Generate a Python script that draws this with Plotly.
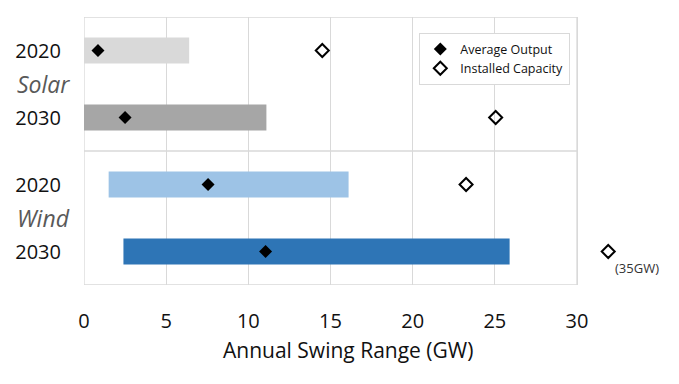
import plotly.graph_objects as go

# ---- data ----
row_labels = ["2020", "2030", "2020", "2030"]
row_pos = [3, 2, 1, 0]
bar_start = [0.0, 0.0, 1.5, 2.4]
bar_end = [6.4, 11.1, 16.1, 25.9]
bar_colors = ["#d9d9d9", "#a6a6a6", "#9dc3e6", "#2e75b6"]
avg_output = [0.85, 2.5, 7.55, 11.05]
installed_capacity = [14.5, 25.0, 23.3, 35.0]
installed_plot = [14.5, 25.05, 23.25, 31.9]  # 35 GW shown off-scale
group_labels = ["Solar", "Wind"]
group_pos = [2.5, 0.5]
x_ticks = [0, 5, 10, 15, 20, 25, 30]
x_max = 30

FONT = "Open Sans"
GRID = "#d9d9d9"

# page has 8px body margin; figure coordinates below account for it
FIG_W, FIG_H = 671, 376
ML, MT, MR, MB = 76, 9, 8, 99
plot_w = FIG_W - ML - MR
axis_px = 493
x_full = x_max * plot_w / axis_px

fig = go.Figure()

fig.add_trace(go.Bar(
    orientation="h",
    y=row_pos,
    x=[e - s for s, e in zip(bar_start, bar_end)],
    base=bar_start,
    marker=dict(color=bar_colors, line=dict(width=0)),
    width=0.39,
    showlegend=False,
    hoverinfo="skip",
))

fig.add_trace(go.Scatter(
    x=avg_output, y=row_pos, mode="markers", name="Average Output",
    marker=dict(symbol="diamond", size=10, color="black"),
    cliponaxis=False,
))

fig.add_trace(go.Scatter(
    x=installed_plot, y=row_pos, mode="markers", name="Installed Capacity",
    marker=dict(symbol="diamond-open", size=10, color="black", line=dict(width=2, color="black")),
    cliponaxis=False,
    customdata=installed_capacity,
))

# frame and separator
fig.add_shape(type="rect", xref="x", yref="y", x0=0, x1=x_max, y0=-0.5, y1=3.5,
              line=dict(color=GRID, width=1.3), layer="below")
fig.add_shape(type="line", xref="x", yref="y", x0=0, x1=x_max, y0=1.5, y1=1.5,
              line=dict(color=GRID, width=1.3), layer="below")

# group labels
for lab, p in zip(group_labels, group_pos):
    fig.add_annotation(x=0, xref="paper", xshift=-12, y=p, yref="y", text=f"<i>{lab}</i>",
                       showarrow=False, xanchor="right",
                       font=dict(family=FONT, size=23, color="#595959"))

fig.add_annotation(x=installed_plot[3], y=row_pos[3], xref="x", yref="y",
                   text=f"({installed_capacity[3]:.0f}GW)", showarrow=False,
                   xanchor="left", yanchor="top", xshift=5, yshift=-5,
                   font=dict(family=FONT, size=13, color="#333333"))

# x-axis title
fig.add_annotation(x=(348 - 8 - ML) / plot_w, xref="paper", y=0, yref="paper",
                   yshift=-65, yanchor="middle", xanchor="center", showarrow=False,
                   text="Annual Swing Range (GW)",
                   font=dict(family=FONT, size=21, color="#111111"))

fig.update_layout(
    xaxis=dict(
        range=[0, x_full], tickvals=x_ticks, showgrid=True, gridcolor=GRID, gridwidth=1.3,
        showline=False, zeroline=False, automargin=False,
        ticks="outside", ticklen=18, tickcolor="rgba(0,0,0,0)",
        tickfont=dict(family=FONT, size=20, color="#111111"),
    ),
    yaxis=dict(
        range=[-0.5, 3.5], tickvals=row_pos, ticktext=row_labels, showgrid=False,
        showline=False, zeroline=False, automargin=False,
        ticks="outside", ticklen=18, tickcolor="rgba(0,0,0,0)",
        tickfont=dict(family=FONT, size=20, color="#111111"),
    ),
)

fig.update_layout(
    width=FIG_W, height=FIG_H,
    margin=dict(l=ML, r=MR, t=MT, b=MB, autoexpand=False),
    plot_bgcolor="white", paper_bgcolor="white",
    legend=dict(x=(419 - 8 - ML) / plot_w, y=0.94, xanchor="left", yanchor="top",
                bordercolor=GRID, borderwidth=1.3, bgcolor="white",
                font=dict(family=FONT, size=12.5, color="#111111"),
                tracegroupgap=0, itemwidth=30),
    font=dict(family=FONT),
)

fig.write_html("out.html")
